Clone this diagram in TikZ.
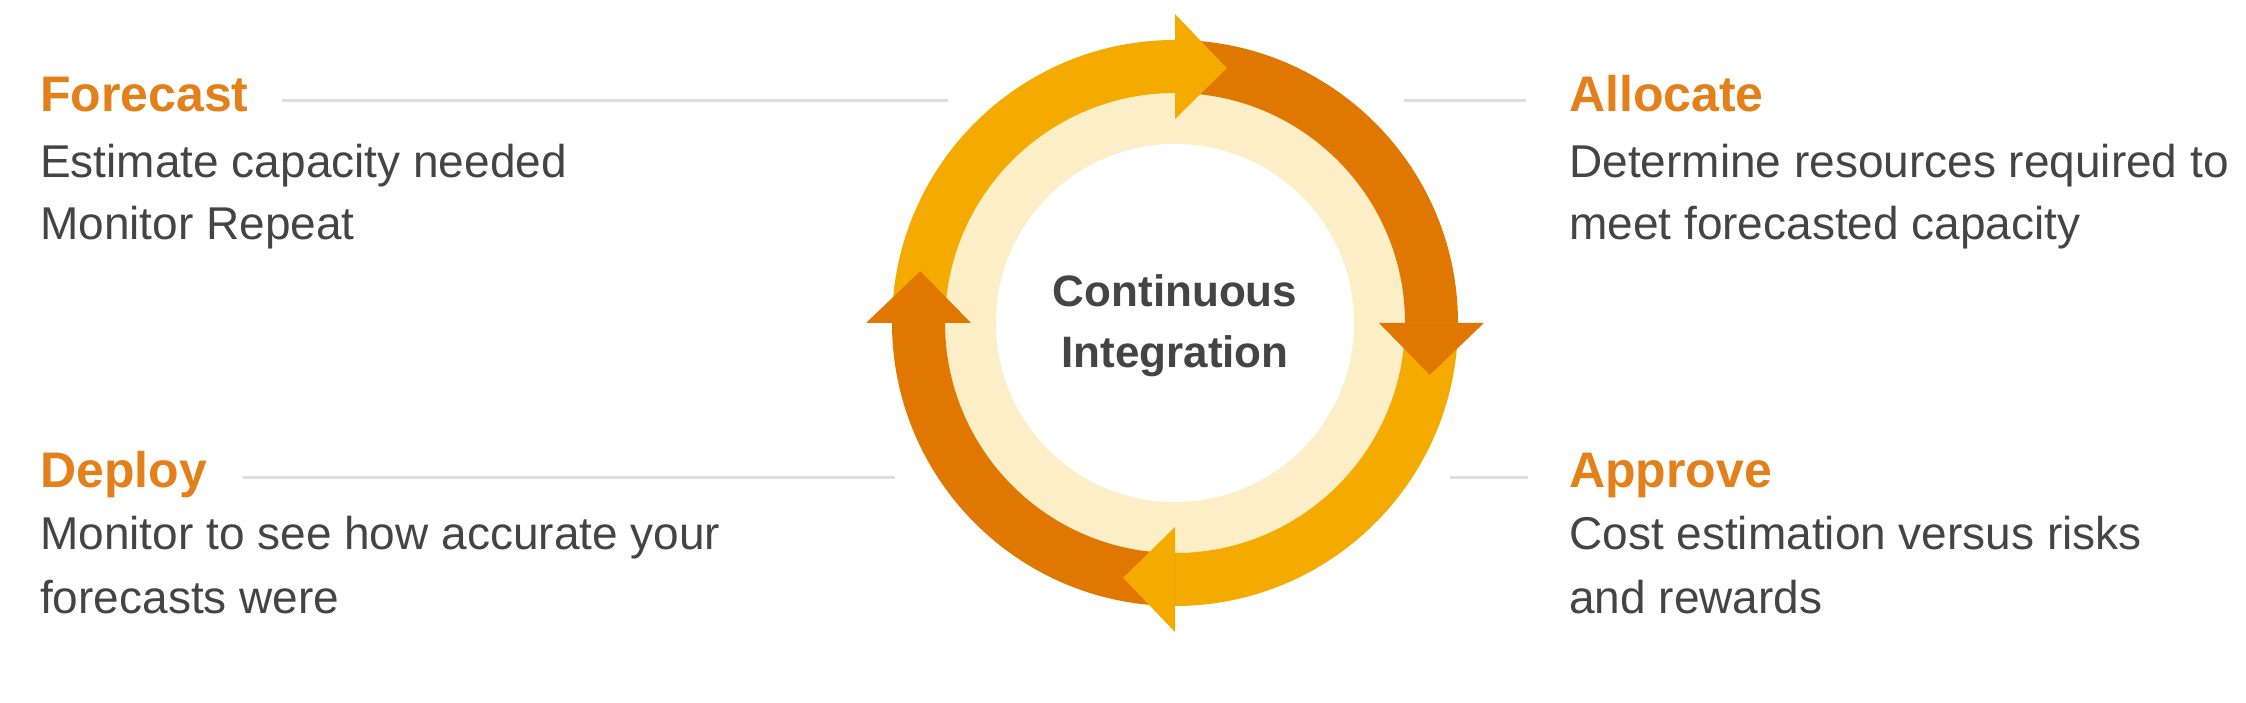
\documentclass[tikz,border=0pt]{standalone}
\usepackage{fontspec}
\setmainfont{Liberation Sans}
\usetikzlibrary{positioning}
\definecolor{lightorange}{HTML}{F5AA00}
\definecolor{darkorange}{HTML}{E07700}
\definecolor{cream}{HTML}{FCEEC7}
\definecolor{headorange}{HTML}{E3801A}
\definecolor{bodygray}{HTML}{444444}
\definecolor{leadgray}{HTML}{DDDDDD}

\begin{document}
\begin{tikzpicture}[x=1pt,y=1pt]
  \tikzstyle{headline}=[anchor=base west, inner sep=0, text=headorange, font=\fontsize{50}{60}\selectfont\bfseries]
  \tikzstyle{blurb}=[anchor=base west, inner sep=0, text=bodygray, font=\fontsize{46}{62}\selectfont]
  \tikzstyle{hub}=[anchor=base, inner sep=0, text=bodygray, font=\fontsize{44}{61}\selectfont\bfseries]
  \tikzstyle{leader}=[leadgray, line width=3pt]
  \useasboundingbox (0,0) rectangle (2246,703);

  % ring
  \begin{scope}[shift={(1175,380)}]
    \fill[cream] (0,0) circle[radius=230];
    \fill[white] (0,0) circle[radius=179];
    \fill[lightorange] (180:283) arc[start angle=180, end angle=90, radius=283] -- (90:230) arc[start angle=90, end angle=180, radius=230] -- cycle;
    \fill[darkorange] (90:283) arc[start angle=90, end angle=0, radius=283] -- (0:230) arc[start angle=0, end angle=90, radius=230] -- cycle;
    \fill[lightorange] (0:283) arc[start angle=0, end angle=-90, radius=283] -- (-90:230) arc[start angle=-90, end angle=0, radius=230] -- cycle;
    \fill[darkorange] (-90:283) arc[start angle=-90, end angle=-180, radius=283] -- (-180:230) arc[start angle=-180, end angle=-90, radius=230] -- cycle;
    % heads
    \fill[lightorange] (90:204) -- (90:309) -- (78.5:260) -- cycle;
    \fill[darkorange] (0:204) -- (0:309) -- (-11.5:260) -- cycle;
    \fill[lightorange] (-90:204) -- (-90:309) -- (-101.5:260) -- cycle;
    \fill[darkorange] (180:204) -- (180:309) -- (168.5:260) -- cycle;
  \end{scope}

  \node[hub] (ci1) at (1175,396) {Continuous};
  \node[hub] (ci2) at (1175,335) {Integration};

  \node[headline] (forecast) at (40,591) {Forecast};
  \node[blurb] (forecast1) at (40,525) {Estimate capacity needed};
  \node[blurb] (forecast2) at (40,463) {Monitor Repeat};
  \node[headline] (allocate) at (1569,591) {Allocate};
  \node[blurb] (allocate1) at (1569,525) {Determine resources required to};
  \node[blurb] (allocate2) at (1569,463) {meet forecasted capacity};
  \node[headline] (deploy) at (40,215) {Deploy};
  \node[blurb] (deploy1) at (40,153) {Monitor to see how accurate your};
  \node[blurb] (deploy2) at (40,89) {forecasts were};
  \node[headline] (approve) at (1569,215) {Approve};
  \node[blurb] (approve1) at (1569,153) {Cost estimation versus risks};
  \node[blurb] (approve2) at (1569,89) {and rewards};

  \coordinate (forecastA) at (282,602);
  \coordinate (forecastB) at (948,602);
  \coordinate (allocateA) at (1404,602);
  \coordinate (allocateB) at (1526,602);
  \coordinate (deployA) at (243,225);
  \coordinate (deployB) at (895,225);
  \coordinate (approveA) at (1450,225);
  \coordinate (approveB) at (1528,225);

  \draw[leader] (forecastA) -- (forecastB);
  \draw[leader] (allocateA) -- (allocateB);
  \draw[leader] (deployA) -- (deployB);
  \draw[leader] (approveA) -- (approveB);
\end{tikzpicture}
\end{document}
